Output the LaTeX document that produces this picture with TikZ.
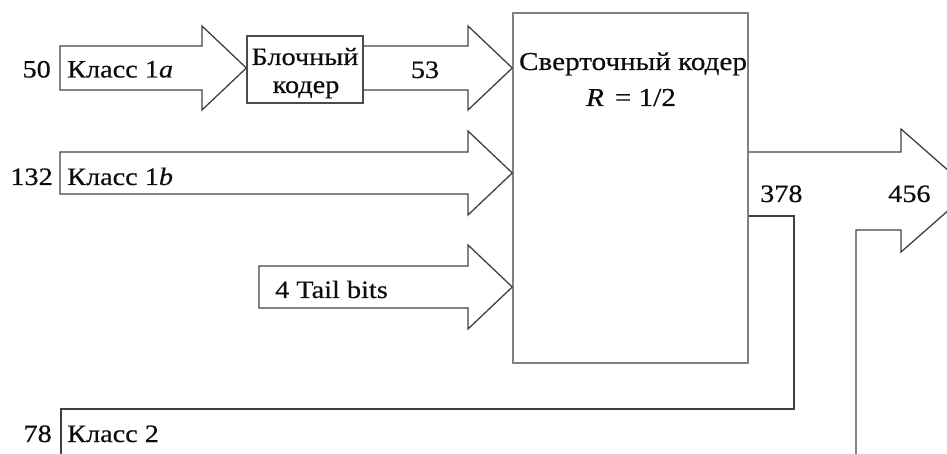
\documentclass[tikz,border=0pt]{standalone}
\usepackage{fontspec}
\setmainfont{Liberation Serif}[FakeStretch=1.13, FakeBold=0.5]
\begin{document}
\begin{tikzpicture}[x=1pt,y=-1pt,
  fat/.style={draw=black!75, line width=1.3pt, line join=miter},
  blockbox/.style={draw=black!70, line width=1.3pt, inner sep=0pt},
  coderbox/.style={draw=black!50, line width=1.4pt, inner sep=0pt},
  lbl/.style={font=\fontsize{25}{30}\selectfont, text=black!95, inner sep=0pt},
  biglbl/.style={lbl, font=\fontsize{25.8}{31}\selectfont}]
\clip (0,0) rectangle (947,454);

% coders
\node[blockbox, minimum width=116pt, minimum height=67pt] (blk) at (305,69.5) {};
\node[coderbox, minimum width=235pt, minimum height=350pt] (conv) at (630.5,188) {};
\node[lbl, anchor=base] (blkA) at (305,65) {Блочный};
\node[lbl, anchor=base] (blkB) at (306,93) {кодер};
\node[biglbl, anchor=base] (convA) at (633,70) {Сверточный кодер};
\node[biglbl, anchor=base] (convB) at (631,106) {\textit{R}\hspace{11pt}= 1/2};

% input labels
\node[lbl, anchor=base east] (n50) at (51,77.5) {50};
\node[lbl, anchor=base west] (c1a) at (67,77.5) {Класс 1\textit{a}};
\node[lbl, anchor=base] (n53) at (425,78) {53};
\node[lbl, anchor=base east] (n132) at (53,185) {132};
\node[lbl, anchor=base west] (c1b) at (67,185) {Класс 1\textit{b}};
\node[lbl, anchor=base west] (tail) at (275,298) {4 Tail bits};
\node[lbl, anchor=base east] (n78) at (52,442) {78};
\node[lbl, anchor=base west] (c2) at (67,442) {Класс 2};

% output labels
\node[lbl, anchor=base west] (n378) at (760,202) {378};
\node[lbl, anchor=base west] (n456) at (888,202) {456};

% tips of the broad arrows
\coordinate (tipA) at (blk.west |- 0,68);
\coordinate (tipB) at (conv.west |- 0,68);
\coordinate (tipC) at (conv.west |- 0,173);
\coordinate (tipD) at (conv.west |- 0,287);
\coordinate (outtip) at (971,190.5);

% class 1a -> block coder
\draw[fat] (60,46) -- (202,46) -- (202,26) -- (tipA) -- (202,110) -- (202,90) -- (60,90) -- cycle;
% block coder -> convolutional coder
\draw[fat] (blk.east |- 0,46) -- (468,46) -- (468,26) -- (tipB) -- (468,110) -- (468,90) -- (blk.east |- 0,90);
% class 1b -> convolutional coder
\draw[fat] (60,152) -- (468,152) -- (468,131) -- (tipC) -- (468,215) -- (468,194) -- (60,194) -- cycle;
% tail bits -> convolutional coder
\draw[fat] (259,266) -- (468,266) -- (468,245) -- (tipD) -- (468,329) -- (468,308) -- (259,308) -- cycle;

% coder output merged with class 2 into 456 bits
\draw[fat] (conv.east |- 0,152) -- (901,152) -- (901,129) -- (outtip) -- (901,252) -- (901,230) -- (856,230) -- (856,460);
\draw[fat] (conv.east |- 0,216) -- (794,216) -- (794,409) -- (61,409) -- (61,460);
\end{tikzpicture}
\end{document}
